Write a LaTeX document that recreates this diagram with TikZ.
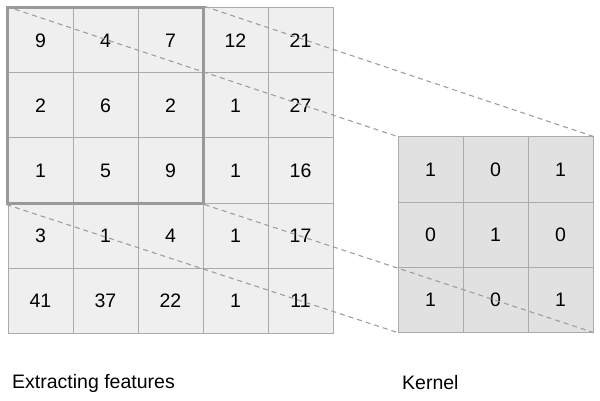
\documentclass[tikz,border=0pt]{standalone}
\usepackage{fontspec}
\setmainfont{Liberation Sans}
\usepackage{tikz}
\usetikzlibrary{positioning, fit}
\usepackage{xcolor}

\definecolor{cellfill}{HTML}{EFEFEF}
\definecolor{kernelfill}{HTML}{E1E1E1}
\definecolor{cellborder}{HTML}{ABABAB}
\definecolor{windowborder}{HTML}{999999}
\definecolor{dashgray}{HTML}{9E9E9E}

\begin{document}
\begin{tikzpicture}[x=1pt, y=-1pt, font=\fontsize{19.5}{23}\selectfont]
    \useasboundingbox (0,0) rectangle (600,401);
    % Define the cells of the input grid
    \foreach \row [count=\r] in {{9,4,7,12,21},{2,6,2,1,27},{1,5,9,1,16},{3,1,4,1,17},{41,37,22,1,11}}
        \foreach \val [count=\c] in \row
            \node (in-\r-\c) [draw=cellborder, line width=1pt, fill=cellfill, rectangle, minimum size=65pt, inner sep=0pt] at ({40.5+65*(\c-1)}, {40.5+65*(\r-1)}) {\val};
    % Define the cells of the kernel
    \foreach \row [count=\r] in {{1,0,1},{0,1,0},{1,0,1}}
        \foreach \val [count=\c] in \row
            \node (kernel-\r-\c) [draw=cellborder, line width=1pt, fill=kernelfill, rectangle, minimum size=65pt, inner sep=0pt] at ({430.5+65*(\c-1)}, {169.5+65*(\r-1)}) {\val};
    % Highlight the window under the kernel
    \node (window) [draw=windowborder, line width=2.2pt, rectangle, inner sep=0pt, fit=(in-1-1) (in-3-3)] {};
    % Draw dashed lines from the window to the kernel
    \draw[dashgray, line width=1.1pt, dash pattern=on 5pt off 4pt] (window.north west) -- (kernel-1-1.north west);
    \draw[dashgray, line width=1.1pt, dash pattern=on 5pt off 4pt] (window.north east) -- (kernel-1-3.north east);
    \draw[dashgray, line width=1.1pt, dash pattern=on 5pt off 4pt] (window.south west) -- (kernel-3-1.south west);
    \draw[dashgray, line width=1.1pt, dash pattern=on 5pt off 4pt] (window.south east) -- (kernel-3-3.south east);
    % Captions
    \node (inlabel) [anchor=west, inner sep=0pt] at (12,383) {Extracting features};
    \node (kernellabel) [anchor=west, inner sep=0pt] at (402,383) {Kernel};
\end{tikzpicture}
\end{document}
